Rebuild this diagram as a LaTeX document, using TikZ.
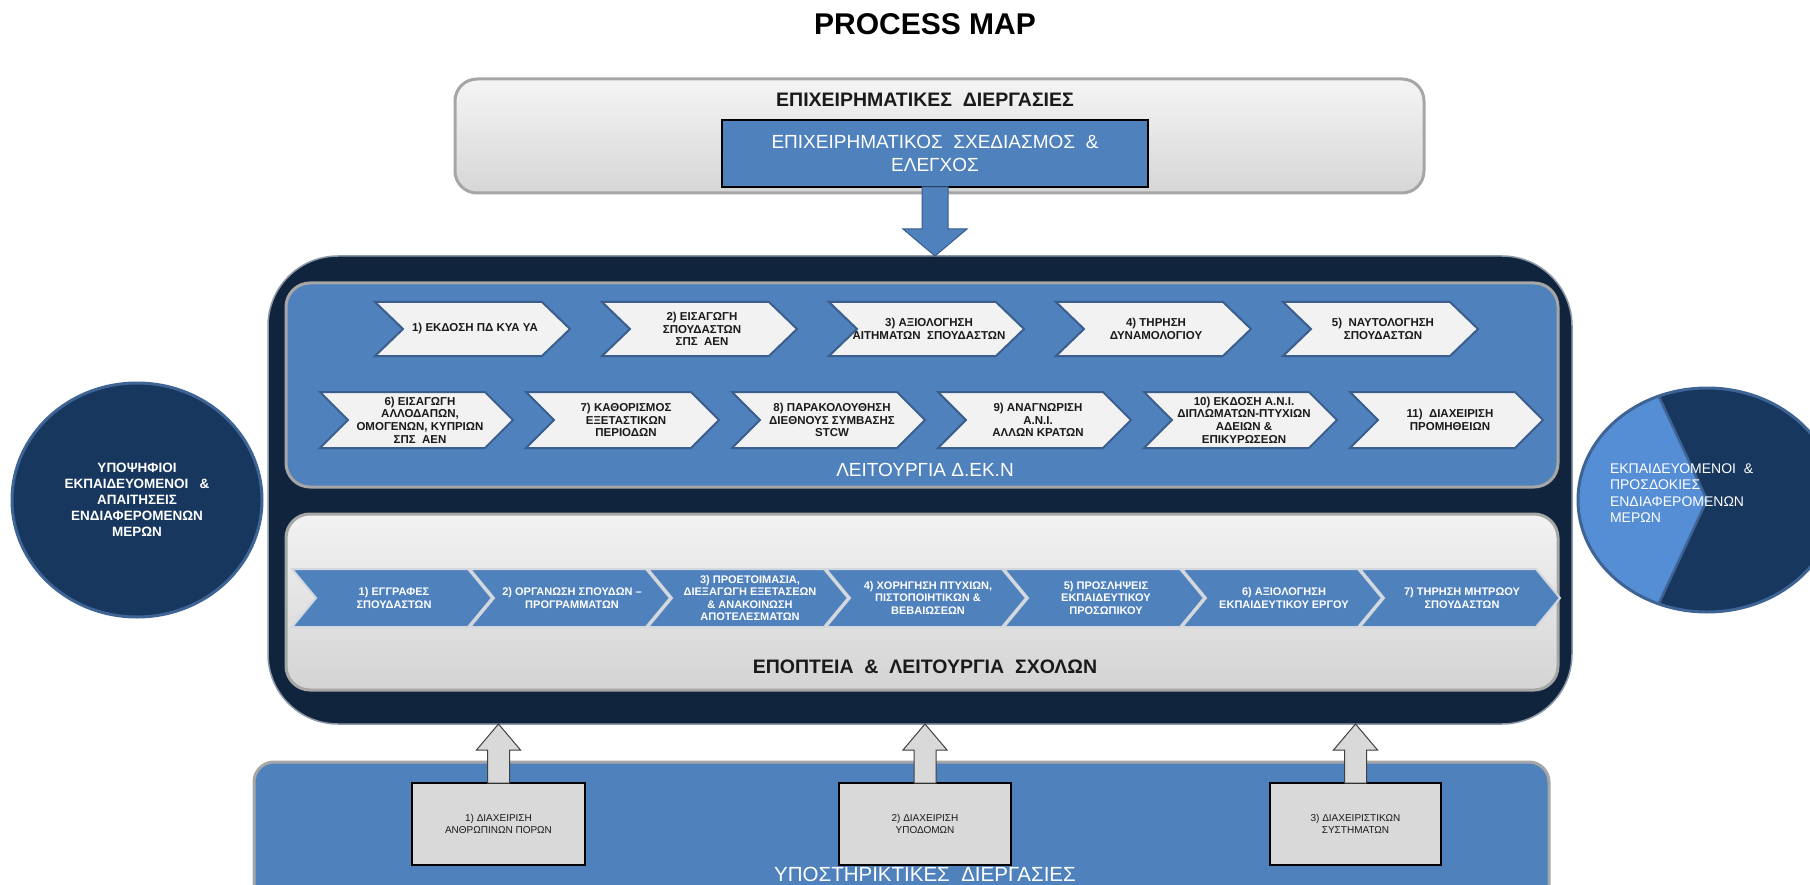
\documentclass[tikz,border=0pt]{standalone}
\usepackage{fontspec}
\setmainfont{Liberation Sans}
\usetikzlibrary{calc, shapes.geometric}

\definecolor{dekblue}{HTML}{4F81BD}
\definecolor{navybox}{HTML}{11243E}
\definecolor{navyedge}{HTML}{8E99A8}
\definecolor{navycircle}{HTML}{17375E}
\definecolor{circleedge}{HTML}{3E6496}
\definecolor{wedgeblue}{HTML}{558ED5}
\definecolor{framegray}{HTML}{A6A6A6}
\definecolor{cellgray}{HTML}{F2F2F2}
\definecolor{cellline}{HTML}{3B5E8C}
\definecolor{schoolline}{HTML}{D3D7DE}
\definecolor{boxgray}{HTML}{D9D9D9}
\definecolor{textdark}{HTML}{1A1A1A}
\definecolor{arrowline}{HTML}{385D8A}

\begin{document}
\begin{tikzpicture}[
      x=1pt, y=-1pt,
      every node/.style={inner sep=0pt, outer sep=0pt},
      frame box/.style={draw=framegray, line width=3pt, rounded corners=24pt},
      process cell/.style={draw=cellline, line width=2pt, fill=cellgray},
      school cell/.style={draw=schoolline, line width=2pt, fill=dekblue},
      cell text/.style={align=center, font=\fontsize{11.5}{12.6}\selectfont\bfseries, text=textdark},
      big label/.style={font=\fontsize{19}{23}\selectfont},
      support node/.style={draw=black, line width=1.5pt, fill=boxgray, minimum height=82pt,
        align=center, font=\fontsize{10}{12}\selectfont, text=textdark},
      plan arrow/.style={draw=arrowline, line width=1pt, fill=dekblue},
      support arrow/.style={draw=black!75, line width=1pt, fill=boxgray},
      stake text/.style={text=white, font=\fontsize{13.5}{16}\selectfont\bfseries}
      ]
      \clip (0,0) rectangle (1810,885);
      \fill[white] (0,0) rectangle (1810,885);
      % title
      \node[font=\fontsize{30}{34}\selectfont\bfseries] (title) at (925,24) {PROCESS MAP};
      % business processes
      \node[frame box, rounded corners=22pt, top color=white!96!black, bottom color=white!84!black,
        minimum width=969pt, minimum height=114pt] (business) at (939.5,136) {};
      \node[big label, font=\fontsize{19.5}{23}\selectfont\bfseries, text=textdark] (business label) at (925,100) {ΕΠΙΧΕΙΡΗΜΑΤΙΚΕΣ\ \ ΔΙΕΡΓΑΣΙΕΣ};
      \node[draw=black, line width=1.5pt, fill=dekblue, minimum width=426pt, minimum height=67pt,
        big label, align=center, text=white] (plan) at (935,153.5) {ΕΠΙΧΕΙΡΗΜΑΤΙΚΟΣ\ \ ΣΧΕΔΙΑΣΜΟΣ\ \ \&\\ΕΛΕΓΧΟΣ};
      % operations frame
      \node[draw=navyedge, line width=1.5pt, fill=navybox, rounded corners=70pt,
        minimum width=1304pt, minimum height=468pt] (ops) at (920,490) {};
      \node[frame box, fill=dekblue, minimum width=1272pt, minimum height=204pt] (dekn) at (922,385) {};
      \node[frame box, top color=white!95!black, bottom color=white!83!black,
        minimum width=1272pt, minimum height=176pt] (schools) at (922,602) {};
      % plan -> operations
      \coordinate (plan tip) at (plan.south |- ops.north);
      \draw[plan arrow] ($(plan.south)+(-13,0)$) -- ($(plan tip)+(-13,-27)$) -- ($(plan tip)+(-32,-27)$)
        -- (plan tip) -- ($(plan tip)+(32,-27)$) -- ($(plan tip)+(13,-27)$) -- ($(plan.south)+(13,0)$) -- cycle;
      % row 1
      \foreach \n/\x/\txt in {1/375/{1) ΕΚΔΟΣΗ ΠΔ ΚΥΑ ΥΑ},
          2/602/{2) ΕΙΣΑΓΩΓΗ\\ΣΠΟΥΔΑΣΤΩΝ\\ΣΠΣ\ \ ΑΕΝ},
          3/829/{3) ΑΞΙΟΛΟΓΗΣΗ\\ΑΙΤΗΜΑΤΩΝ\ \ ΣΠΟΥΔΑΣΤΩΝ},
          4/1056/{4) ΤΗΡΗΣΗ\\ΔΥΝΑΜΟΛΟΓΙΟΥ},
          5/1283/{5)\ \ ΝΑΥΤΟΛΟΓΗΣΗ\\ΣΠΟΥΔΑΣΤΩΝ}} {
          \draw[process cell] (\x,302) -- ++(167,0) -- ++(28,27) -- ++(-28,27) -- ++(-167,0) -- ++(28,-27) -- cycle;
          \node[cell text] (dekn\n) at (\x+100,329) {\txt};
      }
      % row 2
      \foreach \n/\x/\txt in {6/320/{6) ΕΙΣΑΓΩΓΗ\\ΑΛΛΟΔΑΠΩΝ,\\ΟΜΟΓΕΝΩΝ, ΚΥΠΡΙΩΝ\\ΣΠΣ\ \ ΑΕΝ},
          7/526/{7) ΚΑΘΟΡΙΣΜΟΣ\\ΕΞΕΤΑΣΤΙΚΩΝ\\ΠΕΡΙΟΔΩΝ},
          8/732/{8) ΠΑΡΑΚΟΛΟΥΘΗΣΗ\\ΔΙΕΘΝΟΥΣ ΣΥΜΒΑΣΗΣ\\STCW},
          9/938/{9) ΑΝΑΓΝΩΡΙΣΗ\\Α.Ν.Ι.\\ΑΛΛΩΝ ΚΡΑΤΩΝ},
          10/1144/{10) ΕΚΔΟΣΗ Α.Ν.Ι.\\ΔΙΠΛΩΜΑΤΩΝ-ΠΤΥΧΙΩΝ\\ΑΔΕΙΩΝ \&\\ΕΠΙΚΥΡΩΣΕΩΝ},
          11/1350/{11)\ \ ΔΙΑΧΕΙΡΙΣΗ\\ΠΡΟΜΗΘΕΙΩΝ}} {
          \draw[process cell] (\x,392) -- ++(165,0) -- ++(28,28) -- ++(-28,28) -- ++(-165,0) -- ++(28,-28) -- cycle;
          \node[cell text] (dekn\n) at (\x+100,420) {\txt};
      }
      \node[big label, text=white] (dekn label) at (925,470) {ΛΕΙΤΟΥΡΓΙΑ Δ.ΕΚ.Ν};
      % schools
      \foreach \n/\x/\txt in {1/292/{1) ΕΓΓΡΑΦΕΣ\\ΣΠΟΥΔΑΣΤΩΝ},
          2/470/{2) ΟΡΓΑΝΩΣΗ ΣΠΟΥΔΩΝ –\\ΠΡΟΓΡΑΜΜΑΤΩΝ},
          3/648/{3) ΠΡΟΕΤΟΙΜΑΣΙΑ,\\ΔΙΕΞΑΓΩΓΗ ΕΞΕΤΑΣΕΩΝ\\\& ΑΝΑΚΟΙΝΩΣΗ\\ΑΠΟΤΕΛΕΣΜΑΤΩΝ},
          4/826/{4) ΧΟΡΗΓΗΣΗ ΠΤΥΧΙΩΝ,\\ΠΙΣΤΟΠΟΙΗΤΙΚΩΝ \&\\ΒΕΒΑΙΩΣΕΩΝ},
          5/1004/{5) ΠΡΟΣΛΗΨΕΙΣ\\ΕΚΠΑΙΔΕΥΤΙΚΟΥ\\ΠΡΟΣΩΠΙΚΟΥ},
          6/1182/{6) ΑΞΙΟΛΟΓΗΣΗ\\ΕΚΠΑΙΔΕΥΤΙΚΟΥ ΕΡΓΟΥ},
          7/1360/{7) ΤΗΡΗΣΗ ΜΗΤΡΩΟΥ\\ΣΠΟΥΔΑΣΤΩΝ}} {
          \draw[school cell] (\x,569) -- ++(176,0) -- ++(24,29) -- ++(-24,29) -- ++(-176,0) -- ++(24,-29) -- cycle;
          \node[cell text, font=\fontsize{11}{12.6}\selectfont\bfseries, text=white] (school\n) at (\x+102,598) {\txt};
      }
      \node[big label, font=\fontsize{19.5}{23}\selectfont\bfseries, text=textdark] (schools label) at (925,667) {ΕΠΟΠΤΕΙΑ\ \ \&\ \ ΛΕΙΤΟΥΡΓΙΑ\ \ ΣΧΟΛΩΝ};
      % support processes
      \node[frame box, rounded corners=20pt, fill=dekblue, minimum width=1295pt, minimum height=143pt] (support) at (901.5,833.5) {};
      \node[big label, font=\fontsize{20.5}{23}\selectfont, text=white] (support label) at (925,874) {ΥΠΟΣΤΗΡΙΚΤΙΚΕΣ\ \ ΔΙΕΡΓΑΣΙΕΣ};
      \node[support node, minimum width=173pt] (hr) at (498.5,824) {1) ΔΙΑΧΕΙΡΙΣΗ\\ΑΝΘΡΩΠΙΝΩΝ ΠΟΡΩΝ};
      \node[support node, minimum width=172pt] (infra) at (925,824) {2) ΔΙΑΧΕΙΡΙΣΗ\\ΥΠΟΔΟΜΩΝ};
      \node[support node, minimum width=171pt] (systems) at (1355.5,824) {3) ΔΙΑΧΕΙΡΙΣΤΙΚΩΝ\\ΣΥΣΤΗΜΑΤΩΝ};
      % support -> operations
      \foreach \b in {hr,infra,systems} {
          \coordinate (tip) at (\b.north |- ops.south);
          \draw[support arrow] ($(\b.north)+(-11,0)$) -- ($(tip)+(-11,26)$) -- ($(tip)+(-22,26)$) -- (tip)
            -- ($(tip)+(22,26)$) -- ($(tip)+(11,26)$) -- ($(\b.north)+(11,0)$) -- cycle;
      }
      % interested parties in
      \node[ellipse, draw=circleedge, line width=3pt, fill=navycircle, minimum width=250pt, minimum height=234pt,
        stake text, align=center] (needs) at (137,500) {ΥΠΟΨΗΦΙΟΙ\\ΕΚΠΑΙΔΕΥΟΜΕΝΟΙ\ \ \ \&\\ΑΠΑΙΤΗΣΕΙΣ\\ΕΝΔΙΑΦΕΡΟΜΕΝΩΝ\\ΜΕΡΩΝ};
      % interested parties out
      \fill[navycircle] (1707,500) ellipse [x radius=129, y radius=112];
      \fill[wedgeblue] (1707,500) -- ++(112:129 and 112) arc [start angle=112, end angle=248, x radius=129, y radius=112] -- cycle;
      \draw[circleedge, line width=2.5pt] (1707,500) -- ++(112:129 and 112) (1707,500) -- ++(248:129 and 112);
      \draw[circleedge, line width=3pt] (1707,500) ellipse [x radius=129, y radius=112];
      \node[anchor=west, align=left, text=white, font=\fontsize{14}{16.5}\selectfont] (expectations) at (1610,493)
        {ΕΚΠΑΙΔΕΥΟΜΕΝΟΙ\ \ \&\\ΠΡΟΣΔΟΚΙΕΣ\\ΕΝΔΙΑΦΕΡΟΜΕΝΩΝ\\ΜΕΡΩΝ};
\end{tikzpicture}
\end{document}
